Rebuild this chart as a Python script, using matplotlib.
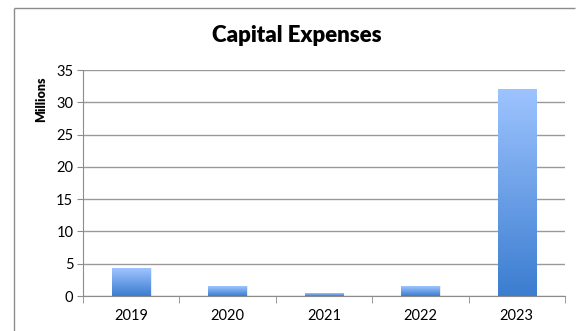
import numpy as np
import matplotlib
matplotlib.use("Agg")
import matplotlib.pyplot as plt
from matplotlib.colors import LinearSegmentedColormap
from matplotlib.patches import Rectangle
from matplotlib.lines import Line2D

years = ["2019", "2020", "2021", "2022", "2023"]
capex_millions = [4.3, 1.5, 0.4, 1.5, 32.1]
y_ticks = [0, 5, 10, 15, 20, 25, 30, 35]

plt.rcParams["font.family"] = ["Lato", "DejaVu Sans"]

W, H = 577, 331
fig = plt.figure(figsize=(W / 100, H / 100), dpi=100)
fig.patch.set_facecolor("white")

# outer chart frame: top and left edges
frame_x = 13.5 / W
frame_y = 1 - 7.5 / H
fig.add_artist(Line2D([frame_x, 1 - 2 / W], [frame_y, frame_y],
                      transform=fig.transFigure, color="#8c8c8c",
                      linewidth=1.0, solid_capstyle="butt"))
fig.add_artist(Line2D([frame_x, frame_x], [0.0, frame_y],
                      transform=fig.transFigure, color="#8c8c8c",
                      linewidth=1.0, solid_capstyle="butt"))

ax = fig.add_axes([83 / W, 1 - 296 / H, (565 - 83) / W, (296 - 70) / H])

x = np.arange(len(years))
bar_w = 0.40
cmap = LinearSegmentedColormap.from_list("bar", ["#3b7dd0", "#9ec4ff"])
grad = np.linspace(0, 1, 256).reshape(-1, 1)

bars = ax.bar(x, capex_millions, width=bar_w, color="none", zorder=3)
for b in bars:
    x0, y0 = b.get_x(), b.get_y()
    w, h = b.get_width(), b.get_height()
    # soft shadow
    ax.add_patch(Rectangle((x0 + 0.012, y0), w, h, facecolor="#000000",
                           alpha=0.08, edgecolor="none", zorder=2.5))
    im = ax.imshow(grad, cmap=cmap, aspect="auto", origin="lower",
                   extent=[x0, x0 + w, y0, y0 + h], zorder=3)
    im.set_clip_path(b)

ax.set_xlim(-0.5, len(years) - 0.5)
ax.set_ylim(0, 35)
ax.set_yticks(y_ticks)
ax.set_xticks(x)
ax.set_xticklabels(years)
ax.set_xticks(np.arange(-0.5, len(years), 1.0), minor=True)

ax.yaxis.grid(True, color="#9a9a9a", linewidth=1.0, zorder=1)
ax.set_axisbelow(True)

for s in ["top", "right"]:
    ax.spines[s].set_visible(False)
for s in ["left", "bottom"]:
    ax.spines[s].set_color("#8c8c8c")

ax.tick_params(axis="y", length=4, color="#8c8c8c", labelsize=10.5, pad=3)
ax.tick_params(axis="x", which="major", length=0, labelsize=10.5, pad=9)
ax.tick_params(axis="x", which="minor", length=5, color="#8c8c8c", direction="out")

fig.text(296.5 / W, 1 - 35 / H, "Capital Expenses", fontsize=16,
         fontweight="heavy", ha="center", va="center")
fig.text(41.5 / W, 1 - 99 / H, "Millions", rotation=90, fontsize=9,
         fontweight="heavy", ha="center", va="center")

fig.savefig("out.png", dpi=100, facecolor="white")
